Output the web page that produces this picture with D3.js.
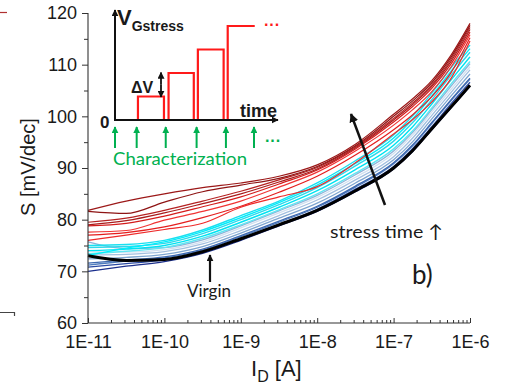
<!DOCTYPE html>
<html>
<head>
<meta charset="utf-8">
<title>Subthreshold slope vs ID</title>
<script src="https://cdn.jsdelivr.net/npm/d3@7"></script>
<style>
  body { margin: 0; background: #fff; }
  svg { display: block; }
  text { font-family: "Liberation Sans", Arial, sans-serif; fill: #1a1a1a; }
  .cal { font-family: Lato, "Open Sans", "DejaVu Sans", sans-serif; }
</style>
</head>
<body>
<script>

// ---- data ----
var logI = [-11, -10.5, -10, -9.5, -9, -8.5, -8, -7.5, -7, -6.75, -6.5, -6.25, -6];

var virgin = [73.0, 72.1, 72.3, 73.8, 76.3, 79.0, 81.8, 85.6, 90.0, 93.4, 97.6, 101.8, 106.0];

var blueCurves = [
  [70.0, 71.0, 71.9, 73.5, 76.0, 78.8, 81.6, 85.4, 89.8, 93.2, 97.4, 101.6, 105.8],
  [70.8, 71.5, 72.2, 73.8, 76.4, 79.1, 82.0, 85.9, 90.3, 93.8, 98.0, 102.4, 106.6],
  [71.2, 72.0, 72.6, 74.1, 76.7, 79.5, 82.4, 86.3, 90.8, 94.3, 98.6, 103.0, 107.2],
  [71.6, 72.2, 72.8, 74.3, 76.9, 79.7, 82.6, 86.5, 91.0, 94.5, 98.8, 103.2, 107.4],
  [72.4, 72.7, 73.3, 74.8, 77.4, 80.3, 83.2, 87.1, 91.6, 95.1, 99.5, 103.9, 108.2],
  [73.2, 73.3, 73.8, 75.3, 77.9, 80.8, 83.8, 87.7, 92.2, 95.8, 100.2, 104.6, 109.0],
  [73.9, 73.7, 74.2, 75.7, 78.4, 81.3, 84.3, 88.2, 92.8, 96.4, 100.8, 105.2, 109.6],
  [75.7, 74.4, 74.6, 76.1, 78.8, 81.7, 84.7, 88.7, 93.3, 96.9, 101.3, 105.8, 110.2]
];
var blueColors = ["#1b2f8c", "#2a4aa3", "#4f7cbd", "#3d68b0", "#7ea5d0", "#a3bfdf", "#d2e0f0", "#8fb2d8"];

var cyanCurves = [
  [73.4, 73.9, 74.6, 76.4, 79.0, 81.9, 85.0, 89.0, 93.7, 97.2, 101.6, 106.2, 110.6],
  [74.0, 74.3, 75.0, 76.8, 79.5, 82.4, 85.6, 89.7, 94.4, 98.0, 102.4, 107.0, 111.5],
  [74.6, 74.8, 75.4, 77.3, 80.0, 82.9, 86.2, 90.4, 95.2, 98.8, 103.2, 107.9, 112.4],
  [73.1, 74.5, 75.7, 77.7, 80.4, 83.3, 86.7, 90.9, 95.8, 99.5, 103.9, 108.7, 113.1],
  [75.0, 75.2, 76.0, 78.0, 80.8, 83.6, 87.1, 91.4, 96.4, 100.1, 104.5, 109.4, 113.8]
];
var cyanColors = ["#5fe6f2", "#00e3f2", "#2fd8ea", "#00eefc", "#19e0f0"];

var redCurves = [
  [76.0, 77.0, 78.1, 79.3, 82.4, 84.4, 86.4, 91.0, 96.6, 99.4, 102.8, 107.3, 114.6],
  [77.0, 77.5, 78.6, 80.4, 82.6, 85.3, 88.4, 92.5, 97.4, 100.3, 103.8, 108.4, 115.2],
  [77.6, 77.9, 79.9, 81.6, 83.6, 86.3, 89.2, 93.3, 98.3, 101.3, 104.8, 109.5, 115.8],
  [78.8, 79.3, 80.7, 82.5, 84.4, 86.9, 89.6, 93.7, 98.9, 101.9, 105.4, 110.1, 116.3],
  [79.0, 79.8, 81.3, 83.1, 85.0, 87.3, 89.8, 93.9, 99.3, 102.3, 105.8, 110.6, 116.8],
  [79.5, 80.3, 81.8, 83.6, 85.5, 87.7, 90.1, 94.1, 99.6, 102.6, 106.1, 111.0, 117.2],
  [81.6, 81.2, 83.4, 85.4, 86.7, 88.0, 90.3, 94.3, 100.0, 103.0, 106.5, 111.4, 117.6],
  [81.8, 83.6, 85.0, 86.2, 87.1, 88.4, 90.6, 94.6, 100.4, 103.4, 106.9, 111.8, 118.0]
];
var redColors = ["#ee2a2a", "#e41e1e", "#f03434", "#d41c1c", "#a81c1c", "#b52222", "#8e1414", "#9c1818"];

var yTicks = [60, 70, 80, 90, 100, 110, 120];
var yMinor = [65, 75, 85, 95, 105, 115];
var xTickExp = [-11, -10, -9, -8, -7, -6];
var xTickLabels = ["1E-11", "1E-10", "1E-9", "1E-8", "1E-7", "1E-6"];

// inset: stress pulse schedule (time units, level in steps of dV)
var pulseStart = [0.9, 2.1, 3.25, 4.42];
var pulseEnd = [1.92, 3.09, 4.26, 5.48];
var pulseLevel = [1, 2, 3, 4];
var charTimes = [0, 0.85, 1.99, 3.2, 4.35, 5.45];

// ---- setup ----
var W = 505, H = 385;
var svg = d3.select("body").append("svg").attr("width", W).attr("height", H);

var x = d3.scaleLog().domain([1e-11, 1e-6]).range([88, 470]);
var y = d3.scaleLinear().domain([60, 120]).range([323, 13]);

var defs = svg.append("defs");
function marker(id, color, size) {
  defs.append("marker").attr("id", id)
    .attr("viewBox", "0 0 10 10").attr("refX", 9).attr("refY", 5)
    .attr("markerWidth", size).attr("markerHeight", size)
    .attr("markerUnits", "userSpaceOnUse").attr("orient", "auto")
    .append("path").attr("d", "M0,0L10,5L0,10Z").attr("fill", color);
}
marker("ahBlack", "#111", 9);
marker("ahSmall", "#111", 7);
marker("ahGreen", "#00b050", 7);

// bits of neighbouring panel cut off at left edge
svg.append("line").attr("x1", 0).attr("x2", 7).attr("y1", 12.5).attr("y2", 12.5)
  .attr("stroke", "#b03030").attr("stroke-width", 1.2);
svg.append("path").attr("d", "M0,312.5H14.5V316").attr("fill", "none")
  .attr("stroke", "#444").attr("stroke-width", 1.2);

// ---- curves ----
var line = d3.line()
  .x(function(d, i) { return x(Math.pow(10, logI[i])); })
  .y(function(d) { return y(d); })
  .curve(d3.curveMonotoneX);

var g = svg.append("g");
function drawSet(curves, colors, w) {
  g.selectAll(null).data(curves).enter().append("path")
    .attr("d", line)
    .attr("fill", "none")
    .attr("stroke", function(d, i) { return colors[i]; })
    .attr("stroke-width", w);
}
drawSet(blueCurves, blueColors, 1.3);
drawSet(cyanCurves, cyanColors, 1.4);
drawSet(redCurves, redColors, 1.2);
g.append("path").datum(virgin).attr("d", line)
  .attr("fill", "none").attr("stroke", "#000").attr("stroke-width", 3);

// ---- axes ----
var yAxis = d3.axisLeft(y).tickValues(yTicks).tickSize(6).tickPadding(5)
  .tickFormat(d3.format("d"));
var ya = svg.append("g").attr("transform", "translate(88,0)").call(yAxis);
svg.append("g").attr("transform", "translate(88,0)")
  .call(d3.axisLeft(y).tickValues(yMinor).tickSize(4).tickFormat(""))
  .select(".domain").remove();

var xMinor = x.ticks().filter(function(v) {
  var m = v / Math.pow(10, Math.floor(Math.log10(v) + 1e-9));
  return Math.round(m) !== 1;
});
var xAxis = d3.axisBottom(x)
  .tickValues(xTickExp.map(function(e) { return Math.pow(10, e); }))
  .tickSize(-5).tickPadding(12)
  .tickFormat(function(d, i) { return xTickLabels[i]; });
var xa = svg.append("g").attr("transform", "translate(0,323)").call(xAxis);
svg.append("g").attr("transform", "translate(0,323)")
  .call(d3.axisBottom(x).tickValues(xMinor).tickSize(-3).tickFormat(""))
  .select(".domain").remove();

svg.selectAll(".domain").attr("stroke", "#333").attr("stroke-width", 1.1);
svg.selectAll(".tick line").attr("stroke", "#333").attr("stroke-width", 1);
ya.selectAll("text").attr("font-size", 18).attr("font-family", "Liberation Sans, Arial, sans-serif").attr("fill", "#1a1a1a");
xa.selectAll("text").attr("font-size", 18).attr("font-family", "Liberation Sans, Arial, sans-serif").attr("fill", "#1a1a1a");
ya.select(".domain").attr("d", "M0,13V323");
xa.select(".domain").attr("d", "M88,0H470");

// axis titles
svg.append("text").attr("transform", "translate(35,167) rotate(-90)")
  .attr("text-anchor", "middle").attr("font-size", 20).text("S [mV/dec]");
var xt = svg.append("text").attr("x", 251).attr("y", 376).attr("font-size", 22);
xt.append("tspan").text("I");
xt.append("tspan").attr("font-size", 16).attr("dy", 6).text("D");
xt.append("tspan").attr("dy", -6).text(" [A]");

// ---- annotations ----
svg.append("line").attr("x1", 385).attr("y1", 205).attr("x2", 351).attr("y2", 114)
  .attr("stroke", "#111").attr("stroke-width", 2.5).attr("marker-end", "url(#ahBlack)");
svg.append("text").attr("class", "cal").attr("x", 330).attr("y", 238)
  .attr("font-size", 18).attr("textLength", 113).attr("lengthAdjust", "spacingAndGlyphs")
  .text("stress time \u2191");

svg.append("line").attr("x1", 210).attr("y1", 282).attr("x2", 210).attr("y2", 255)
  .attr("stroke", "#111").attr("stroke-width", 2.2).attr("marker-end", "url(#ahSmall)");
svg.append("text").attr("class", "cal").attr("x", 209).attr("y", 297)
  .attr("text-anchor", "middle").attr("font-size", 17).text("Virgin");

svg.append("text").attr("class", "cal").attr("x", 412).attr("y", 284)
  .attr("font-size", 26).text("b)");

// ---- inset: stress schedule ----
var tx = d3.scaleLinear().domain([0, 1]).range([115, 140.5]);
var vy = d3.scaleLinear().domain([0, 1]).range([120, 96.5]);

var sig = [[0, 0]];
pulseStart.forEach(function(s, i) {
  sig.push([s, 0], [s, pulseLevel[i]], [pulseEnd[i], pulseLevel[i]]);
  if (i < pulseStart.length - 1) sig.push([pulseEnd[i], 0]);
});
svg.append("path")
  .attr("d", d3.line().x(function(d) { return tx(d[0]); }).y(function(d) { return vy(d[1]); })(sig))
  .attr("fill", "none").attr("stroke", "#ff1a1a").attr("stroke-width", 2.2);
svg.append("text").attr("x", 264).attr("y", 30).attr("font-size", 16).attr("font-weight", "bold")
  .style("fill", "#ff1a1a").text("\u00b7\u00b7\u00b7");

// inset axes
svg.append("line").attr("x1", tx(0)).attr("y1", vy(0) + 1).attr("x2", tx(0)).attr("y2", 10)
  .attr("stroke", "#111").attr("stroke-width", 2).attr("marker-end", "url(#ahSmall)");
svg.append("line").attr("x1", tx(0) - 1).attr("y1", vy(0)).attr("x2", 278).attr("y2", vy(0))
  .attr("stroke", "#111").attr("stroke-width", 2).attr("marker-end", "url(#ahSmall)");

var vt = svg.append("text").attr("x", 117).attr("y", 25).attr("font-weight", "bold");
vt.append("tspan").attr("font-size", 22).text("V");
vt.append("tspan").attr("font-size", 14).attr("dy", 6).text("Gstress");
svg.append("text").attr("x", 240).attr("y", 117).attr("font-size", 18)
  .attr("font-weight", "bold").text("time");
svg.append("text").attr("x", 100).attr("y", 128).attr("font-size", 17)
  .attr("font-weight", "bold").text("0");
svg.append("text").attr("x", 131).attr("y", 93).attr("font-size", 16)
  .attr("font-weight", "bold").text("\u0394V");
svg.append("line").attr("x1", 161).attr("x2", 161).attr("y1", vy(1.5)).attr("y2", vy(1) + 0.5)
  .attr("stroke", "#111").attr("stroke-width", 1.8).attr("marker-end", "url(#ahSmall)");
svg.append("line").attr("x1", 161).attr("x2", 161).attr("y1", vy(1.5)).attr("y2", vy(2) - 0.5)
  .attr("stroke", "#111").attr("stroke-width", 1.8).attr("marker-end", "url(#ahSmall)");

// characterization arrows
svg.selectAll(null).data(charTimes).enter().append("line")
  .attr("x1", function(d) { return tx(d); }).attr("x2", function(d) { return tx(d); })
  .attr("y1", 148).attr("y2", 127)
  .attr("stroke", "#00b050").attr("stroke-width", 2).attr("marker-end", "url(#ahGreen)");
svg.append("text").attr("x", 265).attr("y", 146).attr("font-size", 16).attr("font-weight", "bold")
  .style("fill", "#00b050").text("\u00b7\u00b7\u00b7");
svg.append("text").attr("class", "cal").attr("x", 113).attr("y", 165)
  .attr("font-size", 18).attr("textLength", 134).attr("lengthAdjust", "spacingAndGlyphs")
  .style("fill", "#00b050").text("Characterization");

</script>
</body>
</html>
